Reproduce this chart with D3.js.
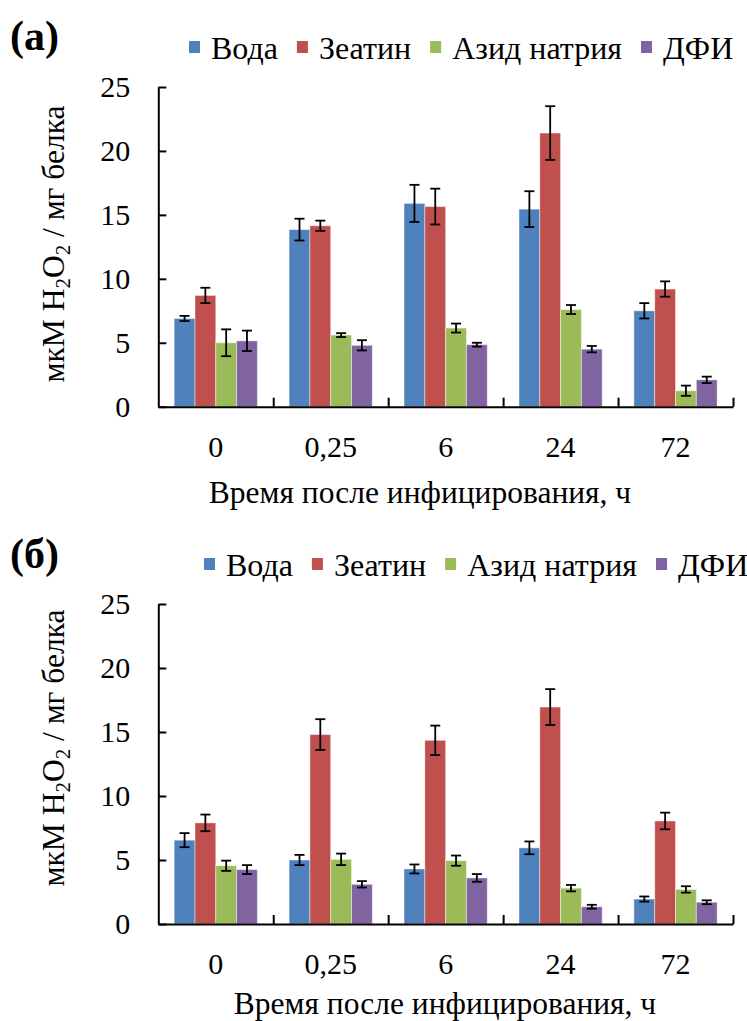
<!DOCTYPE html>
<html><head><meta charset="utf-8">
<script src="https://cdn.jsdelivr.net/npm/d3@7"></script>
<style>
body{margin:0;background:#fff}
svg{display:block}
</style>
</head><body>
<svg id="c" width="747" height="1021"></svg>
<script>
const categories = ["0", "0,25", "6", "24", "72"];
const seriesNames = ["Вода", "Зеатин", "Азид натрия", "ДФИ"];
const seriesColors = ["#4F81BD", "#C0504D", "#9BBB59", "#8064A2"];
const yTicks = [0, 5, 10, 15, 20, 25];

// Panel (а)
const vodaA   = [6.9, 13.85, 15.9, 15.45, 7.5];
const zeatinA = [8.7, 14.15, 15.65, 21.4, 9.2];
const azidA   = [5.0, 5.6, 6.15, 7.6, 1.25];
const dfiA    = [5.15, 4.8, 4.85, 4.5, 2.1];
const vodaAErr   = [0.2, 0.85, 1.45, 1.4, 0.6];
const zeatinAErr = [0.6, 0.4, 1.4, 2.1, 0.6];
const azidAErr   = [1.05, 0.15, 0.35, 0.35, 0.4];
const dfiAErr    = [0.8, 0.4, 0.15, 0.25, 0.25];

// Panel (б)
const vodaB   = [6.55, 5.0, 4.3, 5.95, 1.95];
const zeatinB = [7.9, 14.8, 14.35, 16.95, 8.05];
const azidB   = [4.55, 5.05, 4.95, 2.8, 2.7];
const dfiB    = [4.25, 3.1, 3.6, 1.35, 1.7];
const vodaBErr   = [0.55, 0.4, 0.35, 0.5, 0.2];
const zeatinBErr = [0.65, 1.2, 1.15, 1.4, 0.65];
const azidBErr   = [0.4, 0.45, 0.4, 0.25, 0.25];
const dfiBErr    = [0.35, 0.25, 0.3, 0.15, 0.15];

const xTitle = "Время после инфицирования, ч";
const FONT = '"Liberation Serif"';

const svg = d3.select("#c");
const plotLeft = 158.3, plotRight = 733;

function txt(sel) { return sel.style("font-family", FONT).attr("fill", "#000"); }

function drawPanel(cfg) {
  const g = svg.append("g");
  const y = d3.scaleLinear().domain([0, 25]).range([cfg.y0, cfg.y25]);
  const x0 = d3.scaleBand().domain(categories).range([plotLeft, plotRight])
    .paddingInner(0.276).paddingOuter(0.138);
  const x1 = d3.scaleBand().domain(seriesNames).range([0, x0.bandwidth()]);
  const xb = d3.scaleLinear().domain([0, categories.length]).range([plotLeft, plotRight]);

  const rows = [];
  categories.forEach((c, i) => {
    seriesNames.forEach((s, j) => {
      rows.push({c, s, j, v: cfg.values[j][i], e: cfg.errors[j][i]});
    });
  });
  g.selectAll("rect.bar").data(rows).join("rect")
    .attr("class", "bar")
    .attr("x", d => x0(d.c) + x1(d.s))
    .attr("y", d => y(d.v))
    .attr("width", x1.bandwidth())
    .attr("height", d => y(0) - y(d.v))
    .attr("fill", d => seriesColors[d.j])
    .attr("stroke", "rgba(255,255,255,0.45)")
    .attr("stroke-width", 1);

  const eg = g.append("g").attr("stroke", "#000").attr("stroke-width", 1.8);
  rows.forEach(d => {
    const cx = x0(d.c) + x1(d.s) + x1.bandwidth() / 2;
    const yt = y(d.v + d.e), yb = y(d.v - d.e);
    eg.append("line").attr("x1", cx).attr("x2", cx).attr("y1", yt).attr("y2", yb);
    eg.append("line").attr("x1", cx - 5).attr("x2", cx + 5).attr("y1", yt).attr("y2", yt);
    eg.append("line").attr("x1", cx - 5).attr("x2", cx + 5).attr("y1", yb).attr("y2", yb);
  });

  const ya = g.append("g").attr("transform", `translate(${plotLeft},0)`)
    .call(d3.axisLeft(y).tickValues(yTicks).tickSize(-8).tickSizeOuter(0).tickPadding(28));
  ya.selectAll("path,line").attr("stroke", "#000").attr("stroke-width", 2);
  txt(ya.selectAll("text").attr("font-size", 30));

  const xa = g.append("g").attr("transform", `translate(0,${cfg.y0})`)
    .call(d3.axisBottom(xb).tickValues(d3.range(1, categories.length + 1)).tickSize(-9).tickSizeOuter(0).tickFormat(""));
  xa.selectAll("path,line").attr("stroke", "#000").attr("stroke-width", 2);

  const xl = g.append("g").attr("transform", `translate(0,${cfg.y0})`)
    .call(d3.axisBottom(x0).tickSize(0).tickPadding(29));
  xl.select(".domain").remove();
  txt(xl.selectAll("text").attr("font-size", 30));

  txt(g.append("text").attr("x", cfg.titleX).attr("y", cfg.titleY)
    .attr("text-anchor", "middle").attr("font-size", 31.5).text(xTitle));

  const yt = txt(g.append("text")
    .attr("transform", `translate(${cfg.yTitleX},${cfg.yTitleY}) rotate(-90)`)
    .attr("text-anchor", "middle").attr("font-size", 31.5));
  yt.append("tspan").text("мкМ H");
  yt.append("tspan").attr("font-size", 21).attr("dy", 6).text("2");
  yt.append("tspan").attr("dy", -6).text("O");
  yt.append("tspan").attr("font-size", 21).attr("dy", 6).text("2");
  yt.append("tspan").attr("dy", -6).text(" / мг белка");

  txt(g.append("text").attr("x", 10).attr("y", cfg.labelY)
    .attr("font-size", 42).attr("font-weight", "bold").text(cfg.label));

  let lx = cfg.legendX;
  seriesNames.forEach((s, j) => {
    g.append("rect").attr("x", lx).attr("y", cfg.legendY - 18).attr("width", 11).attr("height", 12)
      .attr("fill", seriesColors[j]);
    const t = txt(g.append("text").attr("x", lx + 22).attr("y", cfg.legendY)
      .attr("font-size", 32).text(s));
    lx += 22 + t.node().getComputedTextLength() + 19;
  });
}

drawPanel({label: "(а)", y0: 406.7, y25: 87, values: [vodaA, zeatinA, azidA, dfiA],
  errors: [vodaAErr, zeatinAErr, azidAErr, dfiAErr], legendX: 189, legendY: 59,
  labelY: 50, titleX: 420, titleY: 503, yTitleX: 64, yTitleY: 244});
drawPanel({label: "(б)", y0: 924, y25: 604, values: [vodaB, zeatinB, azidB, dfiB],
  errors: [vodaBErr, zeatinBErr, azidBErr, dfiBErr], legendX: 204, legendY: 576,
  labelY: 568, titleX: 445, titleY: 1014, yTitleX: 64, yTitleY: 748});
</script>
</body></html>
